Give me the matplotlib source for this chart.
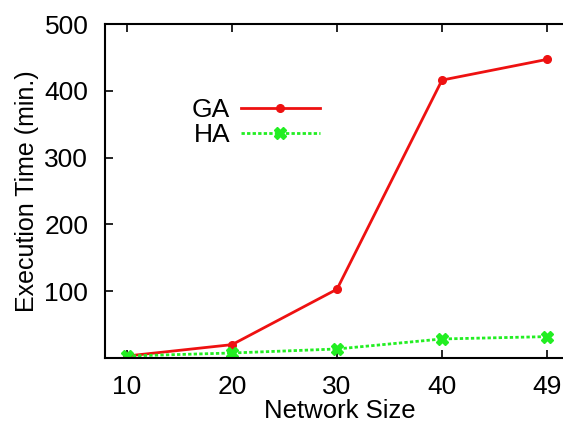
import matplotlib
matplotlib.use("Agg")
import matplotlib.pyplot as plt

sizes = ["10", "20", "30", "40", "49"]
ga = [3, 20, 103, 416, 447]
ha = [3, 7.5, 13.5, 28.5, 32]
yticks = [100, 200, 300, 400, 500]

plt.rcParams['font.family'] = ['Liberation Sans', 'DejaVu Sans']
fig = plt.figure(figsize=(5.63, 4.26), dpi=100)
ax = fig.add_axes([105/563, 1-358/426, 1.0-105/563+0.02, (358-24)/426])
x = list(range(len(sizes)))
ax.plot(x, ga, color='#ee1111', lw=2.0, marker='o', ms=5.5, label='GA')
ax.plot(x, ha, color='#22ee22', lw=2.0, ls=(0, (1.2, 0.8)), marker='X', ms=8, label='HA')
ax.set_xlim(-0.21, 4.26)
ax.set_ylim(0, 500)
ax.set_xticks(x)
ax.set_xticklabels(sizes)
ax.set_yticks(yticks)
ax.tick_params(direction='in', length=6, labelsize=19, top=True, right=False, width=1.2)
ax.tick_params(axis='x', pad=12)
ax.tick_params(axis='y', pad=12)
for s in ax.spines.values():
    s.set_linewidth(1.5)
ax.set_xlabel('Network Size', fontsize=18.5, labelpad=0)
ax.set_ylabel('Execution Time (min.)', fontsize=18, labelpad=4)
leg = ax.legend(loc='upper left', bbox_to_anchor=(0.135, 0.85), frameon=False, markerfirst=False,
                fontsize=19, handlelength=3.0, labelspacing=0.05, handletextpad=0.4)
fig.savefig('out.png', dpi=100)
